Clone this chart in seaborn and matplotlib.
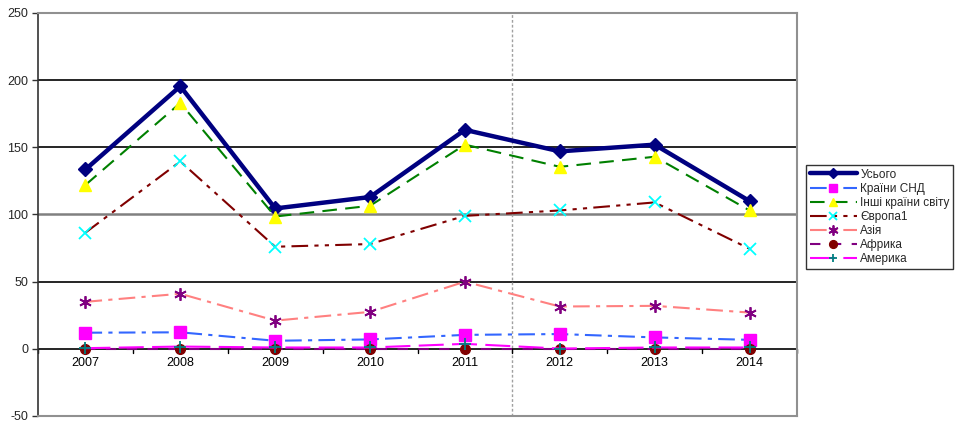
import matplotlib
matplotlib.use("Agg")
import matplotlib.pyplot as plt
import seaborn as sns
import pandas as pd
import numpy as np

years = ["2007", "2008", "2009", "2010", "2011", "2012", "2013", "2014"]
total = [133.5, 195.5, 104.5, 113, 163, 147, 152, 110]
cis = [12, 12.3, 6, 7, 10.4, 11, 8.5, 6.7]
other = [122, 183, 98.5, 106.5, 152, 135.5, 143, 103]
europe = [86.5, 139.5, 76, 78, 99, 103, 109, 74.5]
asia = [35, 41, 21, 27.5, 50, 31.5, 32, 27]
africa = [0, 0, 0, 0, 0, 0, 0, 0]
america = [0.5, 1.7, 1, 1, 3.7, 0.2, 1, 1]

series_names = ["Усього", "Країни СНД", "Інші країни світу", "Європа1", "Азія", "Африка", "Америка"]
series_values = [total, cis, other, europe, asia, africa, america]

styles = {
    "Усього": dict(color="#000080", lw=3.2, ls="-", marker="D", ms=7, mfc="#000080", mec="#000080", mew=1),
    "Країни СНД": dict(color="#3366FF", lw=1.5, ls=(0, (8, 3, 2, 3)), marker="s", ms=8, mfc="#FF00FF", mec="#FF00FF", mew=1),
    "Інші країни світу": dict(color="#008000", lw=1.5, ls=(0, (7, 4)), marker="^", ms=8, mfc="#FFFF00", mec="#FFFF00", mew=1),
    "Європа1": dict(color="#800000", lw=1.5, ls=(0, (8, 3, 2, 3, 2, 3)), marker="x", ms=8, mfc="#00FFFF", mec="#00FFFF", mew=1.3),
    "Азія": dict(color="#FF8080", lw=1.5, ls=(0, (8, 3, 2, 3)), marker=(6, 2, 0), ms=9, mfc="#800080", mec="#800080", mew=1.3),
    "Африка": dict(color="#800080", lw=1.5, ls=(0, (5, 5)), marker="o", ms=7, mfc="#800000", mec="#800000", mew=1),
    "Америка": dict(color="#FF00FF", lw=1.5, ls=(0, (12, 4)), marker="+", ms=8, mfc="#008080", mec="#008080", mew=1.3),
}

sns.set_theme(style="white")
plt.rcParams["font.family"] = ["Liberation Sans", "DejaVu Sans"]

fig = plt.figure(figsize=(9.65, 4.22), dpi=100)
ax = fig.add_axes([38 / 965, 6 / 422, (797 - 38) / 965, (416 - 13) / 422])

xpos = np.arange(len(years))
for name, vals in zip(series_names, series_values):
    st = styles[name]
    df = pd.DataFrame({"x": xpos, "y": vals})
    sns.lineplot(data=df, x="x", y="y", ax=ax, color=st["color"], linewidth=st["lw"],
                 linestyle=st["ls"], marker=st["marker"], markersize=st["ms"],
                 markerfacecolor=st["mfc"], markeredgecolor=st["mec"], markeredgewidth=st["mew"],
                 label=name, zorder=3)

ax.set_xlim(-0.5, 7.5)
ax.set_ylim(-50, 250)
ax.set_yticks(np.arange(-50, 251, 50))
ax.set_yticklabels([str(v) for v in range(-50, 251, 50)], fontsize=9)
ax.set_xticks([])
ax.set_xlabel("")
ax.set_ylabel("")

for v in [50, 100, 150, 200]:
    ax.axhline(v, color="#000000" if v != 100 else "#808080", lw=1.2 if v != 100 else 1.8, zorder=1)
ax.axhline(0, color="#000000", lw=1.2, zorder=2)
ax.axvline(4.5, color="#A0A0A0", lw=1, ls=(0, (2, 1.5)), zorder=1)

# category ticks on zero line
for b in np.arange(-0.5, 7.6, 1.0):
    ax.plot([b, b], [0, -3], color="#000000", lw=1, zorder=2, clip_on=False)
for i, y in enumerate(years):
    ax.text(i, -6, y, ha="center", va="top", fontsize=9, color="#000000")

for side in ["top", "right", "bottom"]:
    ax.spines[side].set_color("#909090")
    ax.spines[side].set_linewidth(1.5)
ax.spines["left"].set_color("#333333")
ax.spines["left"].set_linewidth(1.2)
ax.tick_params(axis="y", left=True, length=4, width=1, color="#333333", pad=3)

handles, labels = ax.get_legend_handles_labels()
leg = fig.legend(handles, labels, loc="upper left", bbox_to_anchor=(806 / 965, 1 - 165 / 422),
                 frameon=True, fancybox=False, edgecolor="#000000", fontsize=8.5,
                 handlelength=4.0, handletextpad=0.3, borderpad=0.3, labelspacing=0.18,
                 borderaxespad=0, markerscale=0.8)
leg.get_frame().set_linewidth(1)
if ax.get_legend():
    ax.get_legend().remove()

fig.savefig("out.png", dpi=100, facecolor="white")
